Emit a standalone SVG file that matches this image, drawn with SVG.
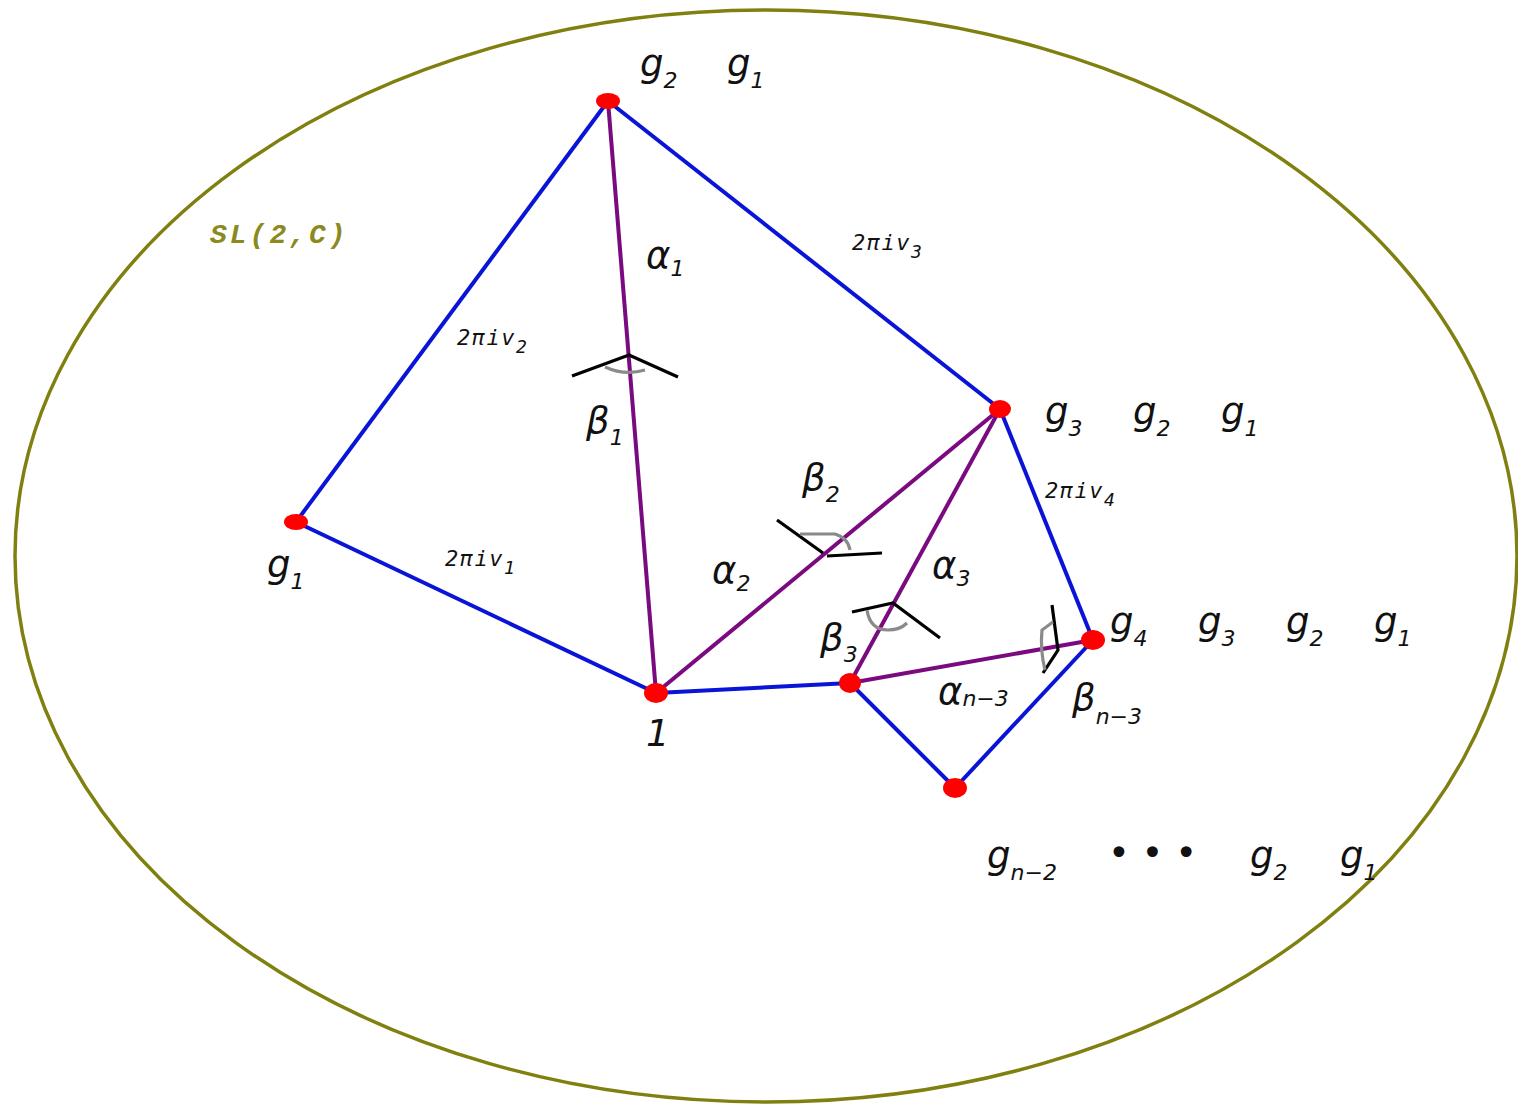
<svg xmlns="http://www.w3.org/2000/svg" width="1518" height="1105" viewBox="0 0 1518 1105">
<style>
.lbl{font-family:"DejaVu Sans",sans-serif;font-style:italic;font-size:37px;fill:#111}
.sub{font-size:22px}
.ed{font-family:"DejaVu Sans Mono",monospace;font-style:italic;font-size:22px;letter-spacing:1.5px;fill:#111}
.esub{font-size:18px}
.blue{stroke:#0a14d6;stroke-width:4;fill:none}
.purple{stroke:#7a0a80;stroke-width:4;fill:none}
.ang{stroke:#000;stroke-width:3.2;fill:none}
.arc{stroke:#8a8a8a;stroke-width:3.2;fill:none}
.node{fill:#ff0000}
</style>
<rect width="1518" height="1105" fill="#fff"/>
<ellipse cx="766" cy="556" rx="751" ry="546" fill="none" stroke="#808010" stroke-width="3.5"/>
<text x="210" y="243" font-family="Liberation Mono,monospace" font-style="italic" font-weight="bold" font-size="28" letter-spacing="3" fill="#8a8a20">SL(2,C)</text>
<g id="connectors">
<line class="blue" x1="608" y1="101" x2="296" y2="522"/>
<line class="blue" x1="608" y1="101" x2="1000" y2="409"/>
<line class="blue" x1="296" y1="522" x2="656" y2="693"/>
<line class="blue" x1="656" y1="693" x2="850" y2="683"/>
<line class="blue" x1="1000" y1="409" x2="1093" y2="640"/>
<line class="blue" x1="850" y1="683" x2="955" y2="788"/>
<line class="blue" x1="955" y1="788" x2="1093" y2="640"/>
<line class="purple" x1="608" y1="101" x2="656" y2="693"/>
<line class="purple" x1="656" y1="693" x2="1000" y2="409"/>
<line class="purple" x1="1000" y1="409" x2="850" y2="683"/>
<line class="purple" x1="850" y1="683" x2="1093" y2="640"/>
</g>
<g id="angles">
<polyline class="ang" points="572,376 629,355 678,377"/>
<path class="arc" d="M605,367 Q625,376 645,370"/>
<polyline class="ang" points="777,520 823,553"/>
<line class="ang" x1="827" y1="556" x2="882" y2="553"/>
<path class="arc" d="M800,534 L835,534 Q848,538 850,550"/>
<polyline class="ang" points="852,612 893,603 940,638"/>
<path class="arc" d="M867,610 Q870,630 888,630 Q900,630 907,623"/>
<polyline class="ang" points="1052,605 1058,650 1043,673"/>
<path class="arc" d="M1053,622 L1042,630 Q1040,650 1045,670"/>
</g>
<g id="n1"><ellipse class="node" cx="608" cy="101" rx="12" ry="8"/></g>
<g id="n2"><ellipse class="node" cx="296" cy="522" rx="12" ry="8"/></g>
<g id="n3"><ellipse class="node" cx="656" cy="693" rx="12" ry="10"/></g>
<g id="n4"><ellipse class="node" cx="1000" cy="409" rx="11" ry="9"/></g>
<g id="n5"><ellipse class="node" cx="850" cy="683" rx="11" ry="10"/></g>
<g id="n6"><ellipse class="node" cx="1093" cy="640" rx="12" ry="10"/></g>
<g id="n7"><ellipse class="node" cx="955" cy="788" rx="12" ry="10"/></g>
<g id="labels">
<text class="lbl" x="640" y="76">g<tspan class="sub" dy="12">2</tspan></text>
<text class="lbl" x="727" y="76">g<tspan class="sub" dy="12">1</tspan></text>
<text class="lbl" x="646" y="268">α<tspan class="sub" dy="8">1</tspan></text>
<text class="ed" x="852" y="250">2πiv<tspan class="esub" dy="8">3</tspan></text>
<text class="ed" x="457" y="345">2πiv<tspan class="esub" dy="8">2</tspan></text>
<text class="lbl" x="586" y="433">β<tspan class="sub" dy="12">1</tspan></text>
<text class="lbl" x="1045" y="424">g<tspan class="sub" dy="12">3</tspan></text>
<text class="lbl" x="1133" y="424">g<tspan class="sub" dy="12">2</tspan></text>
<text class="lbl" x="1221" y="424">g<tspan class="sub" dy="12">1</tspan></text>
<text class="ed" x="1045" y="498">2πiv<tspan class="esub" dy="8">4</tspan></text>
<text class="lbl" x="802" y="490">β<tspan class="sub" dy="12">2</tspan></text>
<text class="lbl" x="267" y="577">g<tspan class="sub" dy="12">1</tspan></text>
<text class="ed" x="445" y="566">2πiv<tspan class="esub" dy="8">1</tspan></text>
<text class="lbl" x="712" y="583">α<tspan class="sub" dy="8">2</tspan></text>
<text class="lbl" x="932" y="578">α<tspan class="sub" dy="8">3</tspan></text>
<text class="lbl" x="820" y="650">β<tspan class="sub" dy="12">3</tspan></text>
<text class="lbl" x="1110" y="634">g<tspan class="sub" dy="12">4</tspan></text>
<text class="lbl" x="1198" y="634">g<tspan class="sub" dy="12">3</tspan></text>
<text class="lbl" x="1286" y="634">g<tspan class="sub" dy="12">2</tspan></text>
<text class="lbl" x="1374" y="634">g<tspan class="sub" dy="12">1</tspan></text>
<text class="lbl" x="938" y="704">α<tspan class="sub" dy="2">n−3</tspan></text>
<text class="lbl" x="1072" y="710">β<tspan class="sub" dy="14">n−3</tspan></text>
<text class="lbl" x="646" y="746">1</text>
<text class="lbl" x="987" y="868">g<tspan class="sub" dy="12">n−2</tspan></text>
<text class="lbl" x="1108" y="866">• • •</text>
<text class="lbl" x="1250" y="868">g<tspan class="sub" dy="12">2</tspan></text>
<text class="lbl" x="1340" y="868">g<tspan class="sub" dy="12">1</tspan></text>
</g>
</svg>
